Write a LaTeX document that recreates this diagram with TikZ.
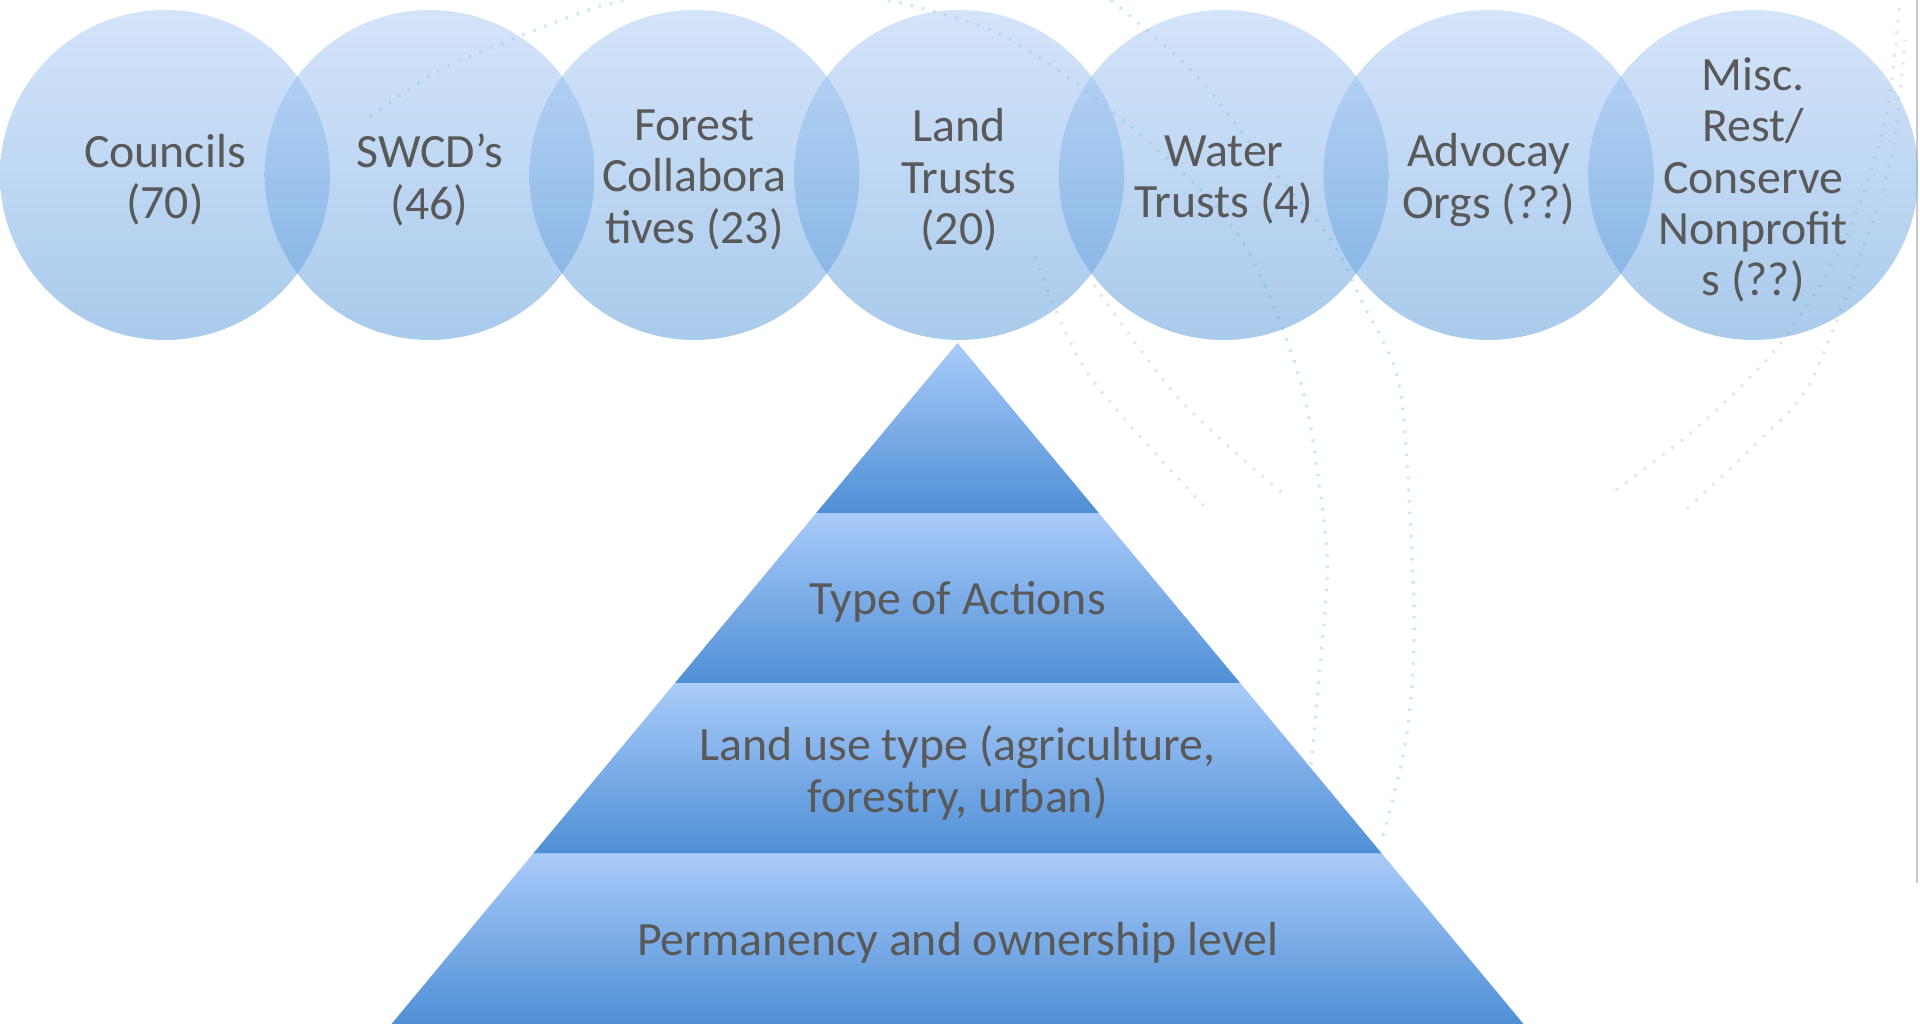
\documentclass[tikz,border=0pt]{standalone}
\usepackage{fontspec}
\setmainfont{Carlito}
\definecolor{labelgray}{HTML}{595959}
\definecolor{circtop}{HTML}{A9C9F5}
\definecolor{circbot}{HTML}{5397D9}
\definecolor{bandtop}{HTML}{A9CBFA}
\definecolor{bandbot}{HTML}{4F8FD5}
\definecolor{arcgray}{HTML}{BDBDBD}
\definecolor{arcteal}{HTML}{74CFB8}
\definecolor{edgegray}{HTML}{C8C8D0}
\tikzset{
  orgcircle/.style={circle, minimum size=3.3cm, inner sep=0pt, top color=circtop, bottom color=circbot,
    fill opacity=0.5},
  orglabel/.style={text=labelgray, align=center},
  bandlabel/.style={text=labelgray, align=center},
  dotarc/.style={line width=0.9pt, dash pattern=on 0.7pt off 2.6pt, opacity=0.4}
}

\begin{document}
\begin{tikzpicture}[font=\fontsize{13.6}{14.6}\selectfont]

			\useasboundingbox (0, 0) rectangle (19.2, 10.26);

			% faint dotted arcs in the background
			\draw [dotarc, arcteal] plot [smooth] coordinates {(3.70, 9.09) (4.46, 9.59) (5.80, 10.13) (6.25, 10.26)};
			\draw [dotarc, arcgray] plot [smooth] coordinates {(10.35, 7.69) (10.88, 6.52) (12.05, 5.19)};
			\draw [dotarc, arcgray] plot [smooth] coordinates {(10.94, 7.41) (11.80, 6.26) (12.82, 5.33)};
			\draw [dotarc, arcteal] plot [smooth] coordinates {(8.88, 10.26) (10.00, 9.92) (11.17, 9.11) (12.35, 7.96) (13.00, 6.46) (13.26, 4.86) (13.24, 4.06) (13.11, 2.61)};
			\draw [dotarc, arcteal] plot [smooth] coordinates {(11.11, 10.26) (11.94, 9.53) (12.58, 8.73) (13.29, 7.89) (13.64, 7.20) (13.99, 6.43) (14.11, 4.90) (14.14, 3.80) (14.05, 2.81) (13.81, 1.82)};
			\draw [dotarc, arcgray] plot [smooth] coordinates {(16.16, 5.36) (17.00, 6.01) (17.80, 6.82) (18.45, 7.86) (18.85, 9.06) (19.00, 10.26)};
			\draw [dotarc, arcgray] plot [smooth] coordinates {(16.87, 5.17) (17.60, 5.86) (18.10, 6.43) (18.63, 7.77) (18.92, 8.73) (19.05, 9.86)};

			% right border line
			\draw [edgegray, line width=0.8pt] (19.17, 10.26) -- (19.17, 1.43);

			% organisation circles
			\node [orgcircle] (councils) at (1.65, 8.51) {};
			\node [orgcircle] (swcd) at (4.297, 8.51) {};
			\node [orgcircle] (forest) at (6.944, 8.51) {};
			\node [orgcircle] (landtrusts) at (9.591, 8.51) {};
			\node [orgcircle] (watertrusts) at (12.238, 8.51) {};
			\node [orgcircle] (advocacy) at (14.885, 8.51) {};
			\node [orgcircle] (misc) at (17.532, 8.51) {};

			\node [orglabel] (councilstext) at ([yshift=-0.5mm]councils.center) {Councils\\(70)};
			\node [orglabel] (swcdtext) at ([yshift=-0.5mm]swcd.center) {SWCD’s\\(46)};
			\node [orglabel] (foresttext) at ([yshift=-0.5mm]forest.center) {Forest\\Collabora\\tives (23)};
			\node [orglabel] (landtrueststext) at ([yshift=-0.5mm]landtrusts.center) {Land\\Trusts\\(20)};
			\node [orglabel] (watertruststext) at ([yshift=-0.5mm]watertrusts.center) {Water\\Trusts (4)};
			\node [orglabel] (advocacytext) at ([yshift=-0.5mm]advocacy.center) {Advocay\\Orgs (??)};
			\node [orglabel] (misctext) at ([yshift=-0.5mm]misc.center) {Misc.\\Rest/\\Conserve\\Nonprofit\\s (??)};

			% pyramid bands
			\shade [top color=bandtop, bottom color=bandbot] (9.575, 6.83) -- (10.990, 5.1275) -- (8.160, 5.1275) -- cycle;
			\shade [top color=bandtop, bottom color=bandbot] (8.160, 5.1275) -- (10.990, 5.1275) -- (12.405, 3.425) -- (6.745, 3.425) -- cycle;
			\shade [top color=bandtop, bottom color=bandbot] (6.745, 3.425) -- (12.405, 3.425) -- (13.820, 1.7225) -- (5.330, 1.7225) -- cycle;
			\shade [top color=bandtop, bottom color=bandbot] (5.330, 1.7225) -- (13.820, 1.7225) -- (15.235, 0.02) -- (3.915, 0.02) -- cycle;

			\node [bandlabel] (actions) at (9.575, 4.24) {Type of Actions};
			\node [bandlabel] (landuse) at (9.575, 2.53) {Land use type (agriculture,\\forestry, urban)};
			\node [bandlabel] (permanency) at (9.575, 0.83) {Permanency and ownership level};

\end{tikzpicture}
\end{document}
